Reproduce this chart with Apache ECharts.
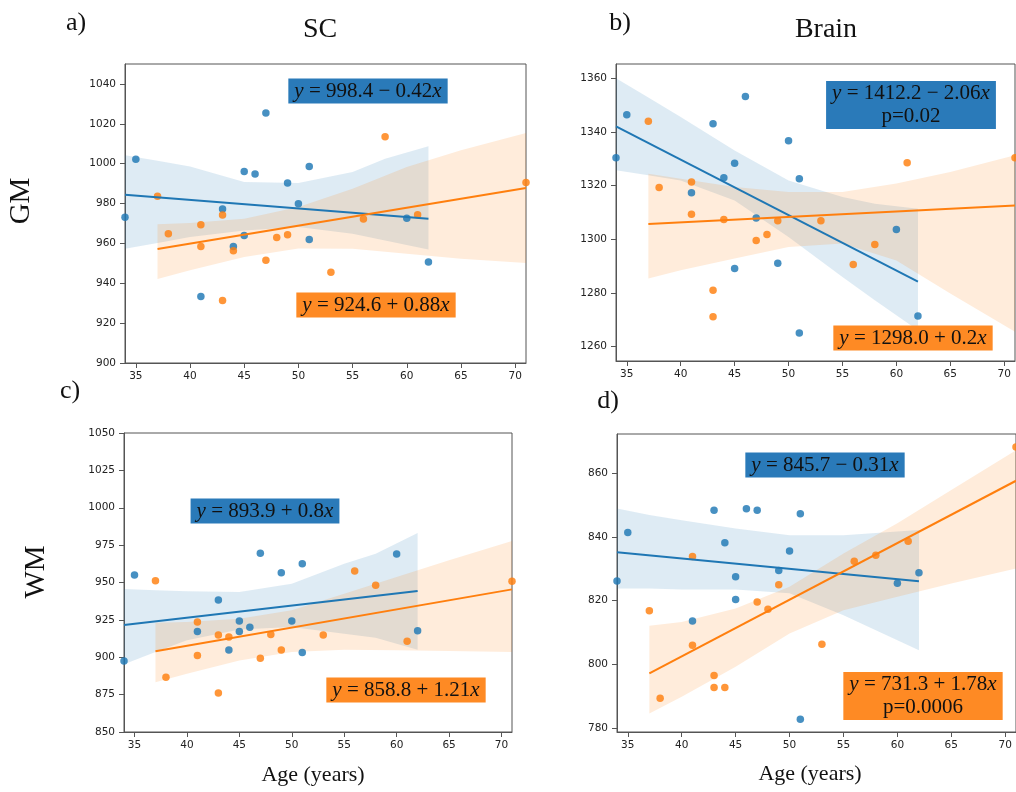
<!DOCTYPE html>
<html>
<head>
<meta charset="utf-8">
<title>GM / WM vs age</title>
<script src="https://cdn.jsdelivr.net/npm/echarts@6.0.0/dist/echarts.min.js"></script>
<style>
  html, body { margin: 0; padding: 0; background: #fff; }
  #chart { width: 1016px; height: 792px; }
</style>
</head>
<body>
<div id="chart"></div>
<script>
// 两组的年龄 (四个面板相同)
const ageBlue = [34, 35, 41, 43, 44, 45, 45, 46, 47, 49, 50, 51, 51, 60, 62];
const ageOrange = [37, 38, 41, 41, 43, 43, 44, 47, 48, 49, 53, 56, 58, 61, 71];

// a) SC - GM
const scGmBlue = [973.1, 1002.2, 933.3, 977.2, 958.5, 996.1, 964.0, 994.8, 1025.4, 990.3, 979.9, 998.6, 962.0, 972.6, 950.7];
const scGmOrange = [983.6, 964.9, 969.4, 958.4, 974.2, 931.3, 956.3, 951.5, 962.9, 964.4, 945.5, 972.2, 1013.5, 974.4, 990.5];
// b) Brain - GM
const brainGmBlue = [1330.5, 1346.5, 1317.4, 1343.2, 1323.0, 1328.4, 1289.1, 1353.4, 1307.9, 1291.0, 1336.8, 1322.6, 1265.0, 1303.6, 1271.3];
const brainGmOrange = [1344.1, 1319.3, 1321.4, 1309.3, 1280.9, 1271.0, 1307.4, 1299.5, 1301.8, 1306.9, 1306.9, 1290.6, 1298.0, 1328.6, 1330.5];
// c) SC - WM
const scWmBlue = [897.5, 955.0, 917.3, 938.3, 904.9, 924.3, 917.3, 920.0, 969.5, 956.6, 924.3, 962.6, 903.1, 969.1, 917.8];
const scWmOrange = [951.2, 886.6, 923.6, 901.1, 914.9, 876.1, 913.6, 899.3, 915.3, 904.9, 914.9, 957.7, 948.1, 910.7, 950.8];
// d) Brain - WM
const brainWmBlue = [826.2, 841.4, 813.6, 848.4, 838.2, 827.5, 820.4, 848.9, 848.4, 829.5, 835.6, 847.3, 782.7, 825.5, 828.8];
const brainWmOrange = [816.8, 789.3, 833.9, 806.0, 796.5, 792.7, 792.7, 819.6, 817.3, 825.0, 806.3, 832.4, 834.3, 838.7, 868.3];

// 回归线端点
const fitXBlue = [34, 62];
const fitXOrange = [37, 71];
const scGmFitBlue = [984.4, 972.4];
const scGmFitOrange = [957.2, 987.8];
const brainGmFitBlue = [1342.2, 1284.2];
const brainGmFitOrange = [1305.7, 1312.6];
const scWmFitBlue = [921.6, 944.3];
const scWmFitOrange = [904.0, 945.4];
const brainWmFitBlue = [835.2, 826.1];
const brainWmFitOrange = [797.1, 857.7];

// 置信带 (上下边界)
const bandXBlue = [34, 37, 40, 45, 50, 55, 58, 62];
const bandXOrange = [37, 40, 45, 50, 55, 60, 65, 71];
const scGmBandBlueHi = [1004.2, 1001.5, 998.6, 990.8, 990.3, 995.8, 1002.5, 1008.7];
const scGmBandBlueLo = [957.3, 960.2, 963.2, 966.5, 968.2, 964.9, 961.5, 957.0];
const scGmBandOrangeHi = [969.6, 970.2, 972.4, 978.3, 987.4, 998.3, 1006.7, 1015.4];
const scGmBandOrangeLo = [942.1, 946.5, 953.2, 957.4, 957.3, 954.8, 952.3, 950.2];
const brainGmBandBlueHi = [1360.2, 1353.0, 1345.7, 1333.2, 1322.0, 1315.8, 1313.3, 1311.4];
const brainGmBandBlueLo = [1325.8, 1323.9, 1322.0, 1314.5, 1300.8, 1285.9, 1277.2, 1266.0];
const brainGmBandOrangeHi = [1324.5, 1322.6, 1319.5, 1317.7, 1317.7, 1320.8, 1325.1, 1331.4];
const brainGmBandOrangeLo = [1285.3, 1288.4, 1292.8, 1297.1, 1298.4, 1292.1, 1279.7, 1265.4];
const scWmBandBlueHi = [945.7, 944.8, 944.1, 943.7, 949.2, 962.6, 969.3, 983.1];
const scWmBandBlueLo = [895.3, 903.5, 911.3, 918.5, 920.2, 915.8, 913.0, 905.1];
const scWmBandOrangeHi = [923.1, 923.6, 925.8, 931.4, 942.5, 953.7, 964.8, 977.8];
const scWmBandOrangeLo = [883.2, 889.0, 897.9, 903.5, 905.1, 904.6, 904.2, 903.5];
const brainWmBandBlueHi = [849.0, 846.9, 845.3, 842.7, 840.6, 840.6, 841.3, 842.2];
const brainWmBandBlueLo = [823.8, 823.8, 823.5, 823.5, 822.3, 815.4, 810.7, 804.4];
const brainWmBandOrangeHi = [812.1, 813.3, 817.5, 824.4, 834.8, 844.3, 854.8, 867.3];
const brainWmBandOrangeLo = [784.5, 789.8, 799.2, 809.7, 817.0, 821.2, 825.4, 830.1];

// 刻度
const xTicks = [35, 40, 45, 50, 55, 60, 65, 70];
const scGmTicks = [900, 920, 940, 960, 980, 1000, 1020, 1040];
const brainGmTicks = [1260, 1280, 1300, 1320, 1340, 1360];
const scWmTicks = [850, 875, 900, 925, 950, 975, 1000, 1025, 1050];
const brainWmTicks = [780, 800, 820, 840, 860];

const BLUE = '#1f77b4';
const ORANGE = '#ff7f0e';

// 面板布局
const panels = [
  { grid: { left: 125, top: 64, width: 401, height: 299 }, yMin: 900, yMax: 1050, yTicks: scGmTicks,
    blue: scGmBlue, orange: scGmOrange, fitBlue: scGmFitBlue, fitOrange: scGmFitOrange,
    bandBlue: [scGmBandBlueLo, scGmBandBlueHi], bandOrange: [scGmBandOrangeLo, scGmBandOrangeHi] },
  { grid: { left: 616, top: 64, width: 399, height: 297 }, yMin: 1254.5, yMax: 1365.5, yTicks: brainGmTicks,
    blue: brainGmBlue, orange: brainGmOrange, fitBlue: brainGmFitBlue, fitOrange: brainGmFitOrange,
    bandBlue: [brainGmBandBlueLo, brainGmBandBlueHi], bandOrange: [brainGmBandOrangeLo, brainGmBandOrangeHi] },
  { grid: { left: 124, top: 433, width: 388, height: 299 }, yMin: 850, yMax: 1050, yTicks: scWmTicks,
    blue: scWmBlue, orange: scWmOrange, fitBlue: scWmFitBlue, fitOrange: scWmFitOrange,
    bandBlue: [scWmBandBlueLo, scWmBandBlueHi], bandOrange: [scWmBandOrangeLo, scWmBandOrangeHi] },
  { grid: { left: 617, top: 434, width: 401, height: 298 }, yMin: 778.7, yMax: 872.4, yTicks: brainWmTicks,
    blue: brainWmBlue, orange: brainWmOrange, fitBlue: brainWmFitBlue, fitOrange: brainWmFitOrange,
    bandBlue: [brainWmBandBlueLo, brainWmBandBlueHi], bandOrange: [brainWmBandOrangeLo, brainWmBandOrangeHi] }
];

const tickLabel = { color: '#222', fontSize: 10.5, fontFamily: 'DejaVu Sans', formatter: v => String(v) };
const axisLine = { show: true, lineStyle: { color: '#555', width: 1 } };

function bandSeries(idx, xs, lo, hi, color) {
  const data = xs.map((x, i) => [x, lo[i], hi[i]]);
  return {
    type: 'custom', xAxisIndex: idx, yAxisIndex: idx, silent: true,
    data: data, encode: { x: 0, y: [1, 2] },
    renderItem: function (params, api) {
      if (params.dataIndex !== 0) return null;
      const top = data.map(d => api.coord([d[0], d[2]]));
      const bottom = data.map(d => api.coord([d[0], d[1]])).reverse();
      return { type: 'polygon', shape: { points: top.concat(bottom) }, style: { fill: color } };
    }
  };
}

function scatterSeries(idx, xs, ys, color) {
  return {
    type: 'scatter', xAxisIndex: idx, yAxisIndex: idx, silent: true,
    data: xs.map((x, i) => [x, ys[i]]),
    symbolSize: 7.5, itemStyle: { color: color, opacity: 0.82 }
  };
}

function fitSeries(idx, xs, ys, color) {
  return {
    type: 'line', xAxisIndex: idx, yAxisIndex: idx, silent: true,
    data: xs.map((x, i) => [x, ys[i]]),
    showSymbol: false, lineStyle: { color: color, width: 2 }
  };
}

const grids = [], xAxes = [], yAxes = [], series = [];
panels.forEach((p, i) => {
  grids.push(Object.assign({ show: true, borderColor: '#555', borderWidth: 1 }, p.grid));
  xAxes.push({
    type: 'value', gridIndex: i, min: 34, max: 71,
    axisLine: axisLine, splitLine: { show: false },
    axisTick: { show: true, length: 5, customValues: xTicks, lineStyle: { color: '#555' } },
    axisLabel: Object.assign({ margin: 8, customValues: xTicks }, tickLabel)
  });
  yAxes.push({
    type: 'value', gridIndex: i, min: p.yMin, max: p.yMax,
    axisLine: axisLine, splitLine: { show: false },
    axisTick: { show: true, length: 5, customValues: p.yTicks, lineStyle: { color: '#555' } },
    axisLabel: Object.assign({ margin: 9, customValues: p.yTicks }, tickLabel)
  });
  series.push(scatterSeries(i, ageBlue, p.blue, BLUE));
  series.push(bandSeries(i, bandXBlue, p.bandBlue[0], p.bandBlue[1], 'rgba(31,119,180,0.15)'));
  series.push(fitSeries(i, fitXBlue, p.fitBlue, BLUE));
  series.push(scatterSeries(i, ageOrange, p.orange, ORANGE));
  series.push(bandSeries(i, bandXOrange, p.bandOrange[0], p.bandOrange[1], 'rgba(255,127,14,0.15)'));
  series.push(fitSeries(i, fitXOrange, p.fitOrange, ORANGE));
});

// 文字 (面板标签、标题、公式框)
const SERIF = 'Liberation Serif';
function label(text, x, y, size, rot) {
  return {
    type: 'text', x: x, y: y, rotation: rot || 0, silent: true,
    style: { text: text, font: size + 'px "' + SERIF + '"', fill: '#111', align: 'center', verticalAlign: 'middle' }
  };
}
function eqBox(text, x, y, bg) {
  return {
    type: 'text', x: x, y: y, silent: true, z: 100,
    style: {
      text: text, fontFamily: SERIF, fontSize: 21, fill: '#111', lineHeight: 23,
      align: 'center', verticalAlign: 'middle',
      backgroundColor: bg, padding: [1, 6],
      rich: { i: { fontFamily: SERIF, fontSize: 21, fontStyle: 'italic', fill: '#111' } }
    }
  };
}
const EQ_BLUE = '#2a7ab9';
const EQ_ORANGE = '#fe8a24';

const graphic = [
  label('a)', 76, 23, 26), label('b)', 620, 23, 26), label('c)', 70, 391, 26), label('d)', 608, 401, 26),
  label('SC', 320, 30, 28), label('Brain', 826, 30, 28),
  label('GM', 21, 201, 29, Math.PI / 2), label('WM', 36, 572, 29, Math.PI / 2),
  label('Age (years)', 313, 775, 22), label('Age (years)', 810, 774, 22),
  eqBox('{i|y} = 998.4 − 0.42{i|x}', 368, 91, EQ_BLUE),
  eqBox('{i|y} = 924.6 + 0.88{i|x}', 376, 305, EQ_ORANGE),
  eqBox('{i|y} = 1412.2 − 2.06{i|x}\np=0.02', 911, 105, EQ_BLUE),
  eqBox('{i|y} = 1298.0 + 0.2{i|x}', 913, 338, EQ_ORANGE),
  eqBox('{i|y} = 893.9 + 0.8{i|x}', 265, 511, EQ_BLUE),
  eqBox('{i|y} = 858.8 + 1.21{i|x}', 406, 690, EQ_ORANGE),
  eqBox('{i|y} = 845.7 − 0.31{i|x}', 825, 465, EQ_BLUE),
  eqBox('{i|y} = 731.3 + 1.78{i|x}\np=0.0006', 923, 696, EQ_ORANGE)
];

const myChart = echarts.init(document.getElementById('chart'));
myChart.setOption({
  animation: false,
  backgroundColor: '#fff',
  grid: grids,
  xAxis: xAxes,
  yAxis: yAxes,
  series: series,
  graphic: graphic
});
</script>
</body>
</html>
